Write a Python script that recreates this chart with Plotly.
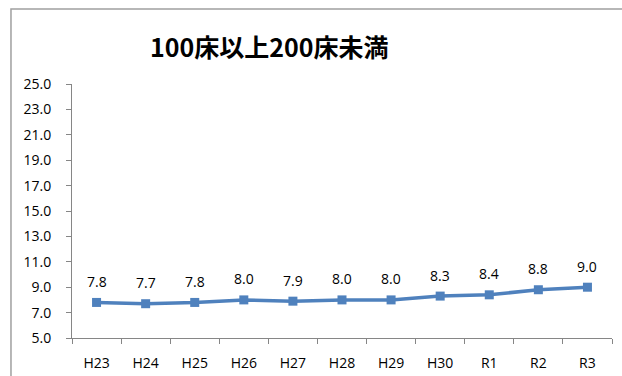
import plotly.graph_objects as go

# Fiscal years and values
years = ["H23", "H24", "H25", "H26", "H27", "H28", "H29", "H30", "R1", "R2", "R3"]
values = [7.8, 7.7, 7.8, 8.0, 7.9, 8.0, 8.0, 8.3, 8.4, 8.8, 9.0]
title_text = "100床以上200床未満"

line_color = "#4F81BD"
axis_color = "#868686"
font_family = "Open Sans, Noto Sans CJK JP, sans-serif"

fig = go.Figure()
fig.add_trace(go.Scatter(
    x=years,
    y=values,
    mode="lines+markers",
    line=dict(color=line_color, width=3.5),
    marker=dict(symbol="square", size=9, color=line_color),
    cliponaxis=False,
    showlegend=False,
))

# Value labels above each point
for yr, v in zip(years, values):
    fig.add_annotation(
        x=yr, y=v, text=f"{v:.1f}",
        xref="x", yref="y",
        yshift=21, showarrow=False,
        font=dict(size=14, color="#000000", family=font_family),
    )

# Outer chart border
fig.add_shape(
    type="rect", xref="paper", yref="paper",
    x0=-0.113, x1=1.2, y0=-0.4, y1=1.295,
    line=dict(color="#a0a0a0", width=1.5),
    fillcolor="rgba(0,0,0,0)", layer="below",
)

fig.add_annotation(
    text=f"<b>{title_text}</b>",
    xref="paper", yref="paper",
    x=(269 - 72) / 540, y=(338 - 46) / 254,
    xanchor="center", yanchor="middle",
    showarrow=False,
    font=dict(size=25, color="#000000", family="Noto Sans CJK JP, sans-serif"),
)

fig.update_xaxes(
    type="category",
    range=[-0.5, 10.5],
    automargin=False,
    showline=True, linecolor=axis_color, linewidth=1,
    ticks="outside", tickson="boundaries", ticklen=5, tickcolor=axis_color,
    showgrid=False, zeroline=False,
    ticklabelstandoff=12,
    tickfont=dict(size=14, color="#000000", family=font_family),
)
fig.update_yaxes(
    range=[5, 25],
    tick0=5, dtick=2, tickformat=".1f",
    automargin=False,
    showline=True, linecolor=axis_color, linewidth=1,
    ticks="outside", ticklen=5, tickcolor=axis_color,
    showgrid=False, zeroline=False,
    ticklabelstandoff=12,
    tickfont=dict(size=14, color="#000000", family=font_family),
)

fig.update_layout(
    width=622, height=376,
    margin=dict(l=72, r=10, t=84, b=38),
    paper_bgcolor="white", plot_bgcolor="white",
)

fig.write_html("out.html")
